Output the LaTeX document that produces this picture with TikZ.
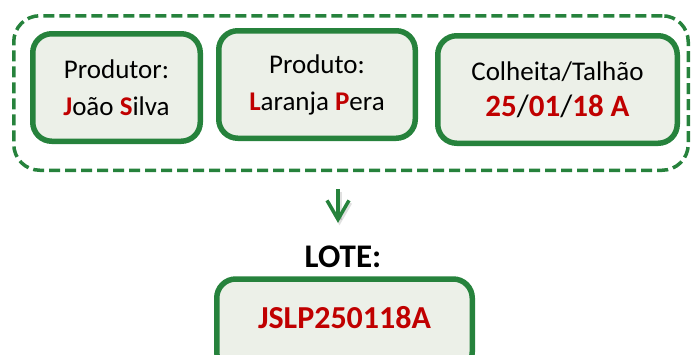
\documentclass[tikz,border=0pt]{standalone}
\usepackage{fontspec}
\setmainfont{Carlito}
\usetikzlibrary{arrows.meta}
\definecolor{lotgreen}{RGB}{38,130,60}
\definecolor{lotred}{RGB}{192,0,0}
\definecolor{lotfill}{RGB}{236,240,232}
\newcommand{\hl}[1]{\textcolor{lotred}{\textbf{#1}}}
\tikzset{
  field/.style={draw=lotgreen, fill=lotfill, line width=5.5pt, rounded corners=19pt,
    align=center, inner sep=0pt, minimum height=107.5pt,
    font=\fontsize{27}{37}\selectfont},
  group/.style={draw=lotgreen, line width=3.5pt, rounded corners=26pt,
    dash pattern=on 11pt off 5pt, inner sep=0pt},
  heading/.style={font=\fontsize{33}{38}\selectfont\bfseries, inner sep=0pt},
  flowtip/.style={-{Straight Barb[length=19pt, width=22pt, line width=3.5pt]}},
  flow/.style={draw=lotgreen, line width=3.5pt, line cap=butt, flowtip},
  flowshade/.style={draw=black, opacity=0.12, line width=4.5pt, flowtip}
}
\begin{document}
\begin{tikzpicture}[x=1pt, y=-1pt]
  \useasboundingbox (0,0) rectangle (691,354);

  % dashed frame around the three fields
  \node[group, minimum width=674.5pt, minimum height=154.5pt] (frame) at (351,93) {};

  % the three fields that make up the lot code
  \node[field, minimum width=167.5pt] (prod) at (116.5,87.5)
    {Produtor:\\ \hl{J}oão \hl{S}ilva};
  \node[field, minimum width=196.5pt] (fruit) at (317,84.5)
    {Produto:\\ \hl{L}aranja \hl{P}era};
  \node[field, minimum width=239.5pt] (harv) at (557.5,89.5)
    {Colheita/Talhão\\[-1pt] {\fontsize{31}{36}\selectfont\hl{25}/\hl{01}/\hl{18 A}}};

  % resulting lot code (box runs past the lower edge)
  \node[heading] (lote) at (343,257) {LOTE:};
  \node[field, minimum width=255.5pt, minimum height=92pt] (code) at (344.5,325)
    {\raisebox{7pt}[\height][\depth]{\fontsize{32}{36}\selectfont\hl{JSLP250118A}}};

  % arrow from the fields to the lot code, with a faint shadow
  \coordinate (from) at ([yshift=-17pt]frame.south -| 338,0);
  \coordinate (to) at ([yshift=23pt]lote.north -| 338,0);
  \draw[flowshade] ([shift={(1.5pt,-2.5pt)}]from) -- ([shift={(1.5pt,-2.5pt)}]to);
  \draw[flow] (from) -- (to);
\end{tikzpicture}
\end{document}
